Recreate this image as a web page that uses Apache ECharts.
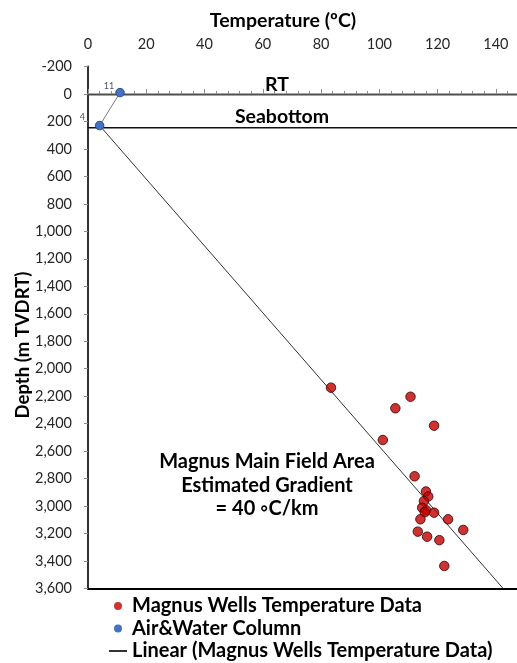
<!DOCTYPE html>
<html>
<head>
<meta charset="utf-8">
<script src="https://cdn.jsdelivr.net/npm/echarts@6/dist/echarts.min.js"></script>
<style>
  html, body { margin: 0; padding: 0; background: #fff; }
  #chart { width: 517px; height: 663px; }
</style>
</head>
<body>
<div id="chart"></div>
<script>
// Magnus wells: formation temperature (ºC) against depth (m TVDRT)
const wellTemp  = [83.4, 110.7, 105.5, 118.8, 101.2, 112.1, 116.0, 116.8, 115.3, 114.7,
                   116.1, 115.6, 118.8, 114.1, 123.6, 128.8, 113.2, 116.4, 120.6, 122.3];
const wellDepth = [2138, 2204, 2288, 2415, 2519, 2783, 2894, 2930, 2964, 3012,
                   3031, 3045, 3048, 3096, 3096, 3174, 3186, 3223, 3248, 3436];

// Air & water column: rotary table and seabed temperatures
const columnTemp  = [11, 4];
const columnDepth = [-10, 230];

// Linear trend of the well data, from the seabed down to the base of the axis
const trendTemp  = [4, 142.5];
const trendDepth = [230, 3600];

// Reference levels
const rtDepth = 5;
const seabedDepth = 245;
const levelTemp = [0, 150];

// Axis ranges
const tempMin = 0, tempMax = 150, tempStep = 20;
const depthMin = -200, depthMax = 3600, depthStep = 200;

const FONT = 'Lato, "Liberation Sans", sans-serif';

const zip = (xs, ys) => xs.map((x, i) => [x, ys[i]]);

const chart = echarts.init(document.getElementById('chart'), null, { renderer: 'canvas' });

const wellPts = zip(wellTemp, wellDepth);
const colPts = zip(columnTemp, columnDepth).map((p, i) => ({
  value: p,
  label: { offset: i === 0 ? [0, -7] : [-9, -8] }
}));

const boldText = (size) => ({ fontFamily: FONT, fontSize: size, fontWeight: 'bold', fill: '#000' });

chart.setOption({
  animation: false,
  backgroundColor: '#ffffff',
  textStyle: { fontFamily: FONT },
  title: {
    text: 'Temperature (ºC)',
    left: 278, top: 6, textAlign: 'center',
    textStyle: { fontFamily: FONT, fontSize: 19.5, fontWeight: 'bold', color: '#000' }
  },
  grid: { left: 88, top: 66.5, width: 437, height: 522, outerBoundsMode: 'none', containLabel: false },
  xAxis: [{
    type: 'value', position: 'top',
    min: tempMin, max: tempMax, interval: tempStep,
    axisLine: { show: true, lineStyle: { color: '#8c8c8c', width: 1.5 } },
    axisTick: { show: true, inside: false, length: 5, lineStyle: { color: '#8c8c8c' } },
    minorTick: { show: true, splitNumber: 5, length: 3, lineStyle: { color: '#8c8c8c' } },
    axisLabel: { showMaxLabel: false, margin: 15, fontFamily: FONT, fontSize: 14.5, color: '#262626' },
    splitLine: { show: false }
  }, {
    type: 'value', position: 'bottom',
    min: tempMin, max: tempMax,
    axisLine: { show: true, lineStyle: { color: '#000', width: 2 } },
    axisTick: { show: false }, axisLabel: { show: false }, splitLine: { show: false }
  }],
  yAxis: {
    type: 'value', inverse: true,
    min: depthMin, max: depthMax, interval: depthStep,
    axisLine: { show: true, lineStyle: { color: '#333', width: 2 } },
    axisTick: { show: true, inside: false, length: 4, lineStyle: { color: '#8c8c8c' } },
    axisLabel: {
      margin: 16, fontFamily: FONT, fontSize: 14.5, color: '#262626',
      formatter: v => v.toLocaleString('en-US')
    },
    splitLine: { show: false }
  },
  legend: {
    orient: 'vertical', left: 108, top: 594.75, padding: 0,
    itemWidth: 18, itemHeight: 8, itemGap: 0,
    textStyle: { fontFamily: FONT, fontSize: 20, fontWeight: 'bold', color: '#000', lineHeight: 22.5 },
    data: [
      { name: 'Magnus Wells Temperature Data', icon: 'circle', itemStyle: { color: '#C00000', borderWidth: 0 } },
      { name: 'Air&Water Column', icon: 'circle', itemStyle: { color: '#4472C4', borderWidth: 0 } },
      { name: 'Linear (Magnus Wells Temperature Data)', itemStyle: { opacity: 0 } }
    ]
  },
  series: [
    {
      name: 'RT', type: 'line', data: zip(levelTemp, [rtDepth, rtDepth]),
      symbol: 'none', lineStyle: { color: '#4d4d4d', width: 1.5 }, silent: true, z: 1
    },
    {
      name: 'Seabottom', type: 'line', data: zip(levelTemp, [seabedDepth, seabedDepth]),
      symbol: 'none', lineStyle: { color: '#111', width: 1.5 }, silent: true, z: 1
    },
    {
      name: 'Linear (Magnus Wells Temperature Data)', type: 'line',
      data: zip(trendTemp, trendDepth),
      symbol: 'none', showSymbol: false, lineStyle: { color: '#333', width: 1 }, z: 2
    },
    {
      name: 'Air&Water Column', type: 'line', data: colPts,
      symbol: 'circle', symbolSize: 8.5, showSymbol: true,
      lineStyle: { color: '#7a7a7a', width: 1 },
      itemStyle: { color: '#4472C4', borderColor: '#2a4a80', borderWidth: 1 },
      label: {
        show: true, position: 'left', distance: 1,
        formatter: p => String(p.value[0]),
        fontFamily: FONT, fontSize: 9, color: '#44546A'
      },
      z: 4
    },
    {
      name: 'Magnus Wells Temperature Data', type: 'scatter', data: wellPts,
      symbol: 'circle', symbolSize: 9.5,
      itemStyle: { color: '#C00000', borderColor: '#3a0000', borderWidth: 1 },
      z: 5
    }
  ],
  graphic: [
    {
      type: 'text', x: 23.5, y: 345, rotation: Math.PI / 2,
      style: Object.assign({ text: 'Depth (m TVDRT)', align: 'center', verticalAlign: 'middle' }, boldText(18.5))
    },
    { type: 'text', x: 277, y: 85, style: Object.assign({ text: 'RT', align: 'center', verticalAlign: 'middle' }, boldText(19.5)) },
    { type: 'text', x: 282, y: 117, style: Object.assign({ text: 'Seabottom', align: 'center', verticalAlign: 'middle' }, boldText(19.5)) },
    {
      type: 'text', x: 267, y: 450,
      style: Object.assign({
        text: 'Magnus Main Field Area\nEstimated Gradient\n= 40 ◦C/km',
        align: 'center', verticalAlign: 'top', lineHeight: 23.5
      }, boldText(20))
    }
  ]
});
</script>
</body>
</html>
